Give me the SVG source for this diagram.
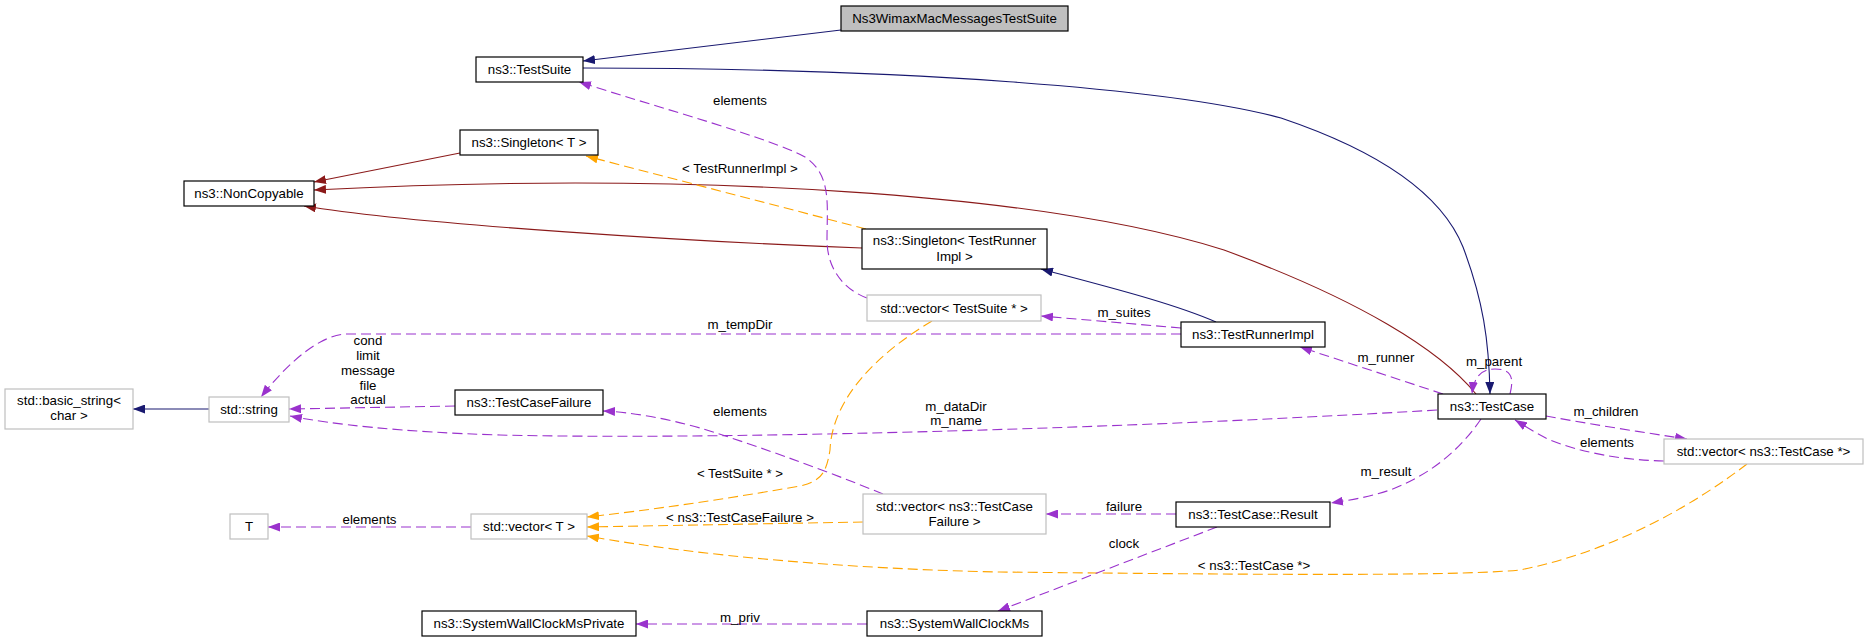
<svg xmlns="http://www.w3.org/2000/svg" width="1869" height="643" viewBox="0 0 1869 643">
<style>
text{font-family:"Liberation Sans",Arial,Helvetica,sans-serif;font-size:13.3px;fill:#000;text-anchor:middle}
.n rect{fill:#fff;stroke:#000;stroke-width:1.2}
.u rect{fill:#fff;stroke:#bfbfbf;stroke-width:1.2}
.root rect{fill:#bfbfbf;stroke:#000;stroke-width:1.2}
.e path{fill:none;stroke-width:1.1}
.blue{stroke:#191970;marker-end:url(#ab)}
.red{stroke:#8b1a1a;marker-end:url(#ar)}
.pur{stroke:#9a32cd;stroke-dasharray:10,5;marker-end:url(#ap)}
.ora{stroke:#ffa500;stroke-dasharray:10,5;marker-end:url(#ao)}
</style>
<defs>
<marker id="ab" viewBox="0 0 12 9" refX="12" refY="4.5" markerWidth="12" markerHeight="9" markerUnits="userSpaceOnUse" orient="auto"><path d="M0,0 L12,4.5 L0,9 z" fill="#191970"/></marker>
<marker id="ar" viewBox="0 0 12 9" refX="12" refY="4.5" markerWidth="12" markerHeight="9" markerUnits="userSpaceOnUse" orient="auto"><path d="M0,0 L12,4.5 L0,9 z" fill="#8b1a1a"/></marker>
<marker id="ap" viewBox="0 0 12 9" refX="12" refY="4.5" markerWidth="12" markerHeight="9" markerUnits="userSpaceOnUse" orient="auto"><path d="M0,0 L12,4.5 L0,9 z" fill="#9a32cd"/></marker>
<marker id="ao" viewBox="0 0 12 9" refX="12" refY="4.5" markerWidth="12" markerHeight="9" markerUnits="userSpaceOnUse" orient="auto"><path d="M0,0 L12,4.5 L0,9 z" fill="#ffa500"/></marker>
</defs>
<rect width="1869" height="643" fill="#fff"/>
<g id="connectors" class="e">
<path class="blue" d="M841,30 L583,61"/>
<path class="blue" d="M583,68 C 900,68 1170,88 1281,118 C 1370,148 1440,190 1463,247 C 1483,300 1489,340 1490,394"/>
<path class="red" d="M460,153 L314,182"/>
<path class="red" d="M1476,394 C 1440,350 1360,300 1224,250 C 1050,195 700,170 314,190"/>
<path class="red" d="M862,248 C 700,242 420,225 304,206"/>
<path class="ora" d="M866,229 L586,156"/>
<path class="blue" d="M1216,322 C 1170,302 1100,285 1041,269"/>
<path class="pur" d="M1181,328 L1041,316"/>
<path class="pur" d="M1181,334 L345,334 C 320,336 290,360 261,397"/>
<path class="pur" d="M867,298 C 845,290 827,270 827,240 C 827,205 832,175 805,157 C 770,138 660,108 579,82"/>
<path class="pur" d="M1443,394 L1300,347"/>
<path class="pur" d="M1437,410 C 1100,430 700,440 500,435 C 400,432 330,424 290,416"/>
<path class="pur" d="M455,406 L289,409"/>
<path class="pur" d="M883,494 C 820,468 740,440 700,428 C 665,418 630,412 603,411"/>
<path class="ora" d="M932,321 C 875,355 832,400 830,450 C 826,475 820,481 800,486 C 720,500 650,510 587,517"/>
<path class="ora" d="M863,522 L587,527"/>
<path class="ora" d="M1747,464 C 1700,500 1620,550 1520,570 C 1450,577 1200,574 1000,572 C 850,569 700,556 587,536"/>
<path class="pur" d="M471,527 L268,527"/>
<path class="pur" d="M1546,416 C 1590,424 1640,432 1687,439"/>
<path class="pur" d="M1664,461 C 1620,460 1580,452 1550,440 C 1535,433 1525,426 1515,420"/>
<path class="pur" d="M1510,394 C 1514,378 1512,369 1495,369 C 1482,369 1474,376 1472,394"/>
<path class="pur" d="M1481,419 C 1460,450 1430,475 1390,490 C 1370,497 1350,500 1331,503"/>
<path class="pur" d="M1176,514 L1046,514"/>
<path class="pur" d="M1217,527 L998,611"/>
<path class="pur" d="M867,624 L636,624"/>
<path class="blue" d="M209,409 L133,409"/>
<g id="edge-labels">
<text x="740" y="104.5">elements</text>
<text x="740" y="172.5">&lt; TestRunnerImpl &gt;</text>
<text x="1124" y="316.5">m_suites</text>
<text x="740" y="328.5">m_tempDir</text>
<text x="368" y="345.2">cond</text>
<text x="368" y="360">limit</text>
<text x="368" y="374.7">message</text>
<text x="368" y="389.5">file</text>
<text x="368" y="404.2">actual</text>
<text x="1386" y="361.5">m_runner</text>
<text x="1494" y="365.5">m_parent</text>
<text x="956" y="411">m_dataDir</text>
<text x="956" y="425">m_name</text>
<text x="1606" y="416">m_children</text>
<text x="740" y="416">elements</text>
<text x="1607" y="446.5">elements</text>
<text x="740" y="477.5">&lt; TestSuite * &gt;</text>
<text x="1386" y="475.5">m_result</text>
<text x="1124" y="510.5">failure</text>
<text x="740" y="521.5">&lt; ns3::TestCaseFailure &gt;</text>
<text x="369.5" y="523.5">elements</text>
<text x="1124" y="547.5">clock</text>
<text x="1254" y="569.5">&lt; ns3::TestCase *&gt;</text>
<text x="740" y="621.5">m_priv</text>
</g>
</g>
<g id="node-Ns3WimaxMacMessagesTestSuite" class="root"><rect x="841" y="6" width="227" height="25"/><text x="954.5" y="23.2">Ns3WimaxMacMessagesTestSuite</text></g>
<g id="node-TestSuite" class="n"><rect x="476" y="57" width="107" height="25"/><text x="529.5" y="74.2">ns3::TestSuite</text></g>
<g id="node-SingletonT" class="n"><rect x="460" y="130" width="138" height="25"/><text x="529" y="147.2">ns3::Singleton&lt; T &gt;</text></g>
<g id="node-NonCopyable" class="n"><rect x="184" y="181" width="130" height="25"/><text x="249" y="198.2">ns3::NonCopyable</text></g>
<g id="node-SingletonTRI" class="n"><rect x="862" y="229" width="185" height="40"/><text x="954.5" y="245.4">ns3::Singleton&lt; TestRunner</text><text x="954.5" y="260.7">Impl &gt;</text></g>
<g id="node-vectorTestSuite" class="u"><rect x="867" y="295" width="174" height="26"/><text x="954" y="312.7">std::vector&lt; TestSuite * &gt;</text></g>
<g id="node-TestRunnerImpl" class="n"><rect x="1181" y="322" width="144" height="25"/><text x="1253" y="339.2">ns3::TestRunnerImpl</text></g>
<g id="node-basic_string" class="u"><rect x="5" y="389" width="128" height="40"/><text x="69" y="405.4">std::basic_string&lt;</text><text x="69" y="420.4">char &gt;</text></g>
<g id="node-string" class="u"><rect x="209" y="397" width="80" height="25"/><text x="249" y="414.2">std::string</text></g>
<g id="node-TestCaseFailure" class="n"><rect x="455" y="390" width="148" height="25"/><text x="529" y="407.2">ns3::TestCaseFailure</text></g>
<g id="node-TestCase" class="n"><rect x="1438" y="394" width="108" height="25"/><text x="1492" y="411.2">ns3::TestCase</text></g>
<g id="node-vectorTestCase" class="u"><rect x="1664" y="439" width="199" height="25"/><text x="1763.5" y="456.2">std::vector&lt; ns3::TestCase *&gt;</text></g>
<g id="node-vectorTestCaseFailure" class="u"><rect x="863" y="494" width="183" height="40"/><text x="954.5" y="511.4">std::vector&lt; ns3::TestCase</text><text x="954.5" y="525.7">Failure &gt;</text></g>
<g id="node-Result" class="n"><rect x="1176" y="502" width="154" height="25"/><text x="1253" y="519.2">ns3::TestCase::Result</text></g>
<g id="node-T" class="u"><rect x="230" y="514" width="38" height="25"/><text x="249" y="531.2">T</text></g>
<g id="node-vectorT" class="u"><rect x="471" y="514" width="116" height="25"/><text x="529" y="531.2">std::vector&lt; T &gt;</text></g>
<g id="node-SystemWallClockMsPrivate" class="n"><rect x="422" y="611" width="214" height="25"/><text x="529" y="628.2">ns3::SystemWallClockMsPrivate</text></g>
<g id="node-SystemWallClockMs" class="n"><rect x="867" y="611" width="175" height="25"/><text x="954.5" y="628.2">ns3::SystemWallClockMs</text></g>
</svg>
